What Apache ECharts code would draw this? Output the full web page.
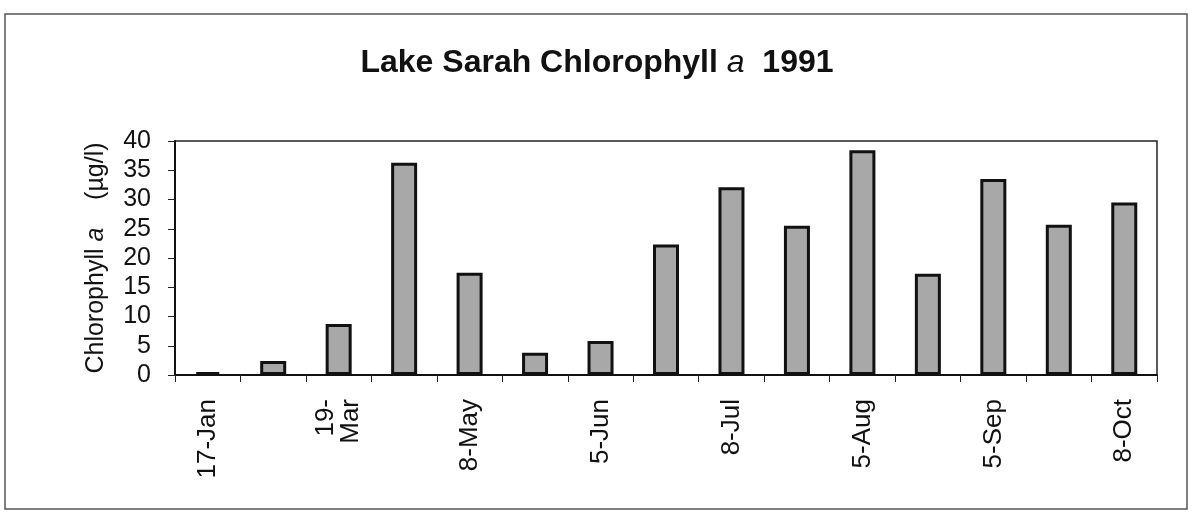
<!DOCTYPE html>
<html>
<head>
<meta charset="utf-8">
<script src="https://cdn.jsdelivr.net/npm/echarts@6/dist/echarts.min.js"></script>
<style>
  html, body { margin: 0; padding: 0; background: #fff; }
  #chart { width: 1194px; height: 520px; }
</style>
</head>
<body>
<div id="chart"></div>
<script>
// sampling dates, only every other one is labelled in the original
const dates = [
  "17-Jan", "", "19-\nMar", "", "8-May", "", "5-Jun", "",
  "8-Jul", "", "5-Aug", "", "5-Sep", "", "8-Oct"
];
// chlorophyll a, ug/l
const chlA = [0.5, 2.4, 8.7, 36.3, 17.5, 3.8, 5.8, 22.3, 32.1, 25.5, 38.4, 17.3, 33.5, 25.7, 29.5];
const yTicks = [0, 5, 10, 15, 20, 25, 30, 35, 40];

const font = "Liberation Sans, Arial, Helvetica, sans-serif";
const myChart = echarts.init(document.getElementById("chart"));

const option = {
  animation: false,
  backgroundColor: "#fff",
  title: {
    text: "Lake Sarah Chlorophyll {i|a}  1991",
    left: "center",
    top: 42,
    textStyle: {
      fontFamily: font,
      fontSize: 32,
      fontWeight: "bold",
      color: "#111",
      rich: {
        i: { fontFamily: font, fontSize: 32, fontStyle: "italic", fontWeight: "normal", color: "#111" }
      }
    }
  },
  graphic: [
    {
      // outer frame of the scanned figure
      type: "rect",
      shape: { x: 5, y: 14, width: 1182, height: 495 },
      style: { fill: "none", stroke: "#555", lineWidth: 1.5 },
      silent: true
    }
  ],
  grid: {
    left: 175,
    right: 37,
    top: 141,
    bottom: 145,
    show: true,
    borderColor: "#222",
    borderWidth: 1.5
  },
  xAxis: {
    type: "category",
    data: dates,
    axisLine: { lineStyle: { color: "#111", width: 2 } },
    axisTick: { show: true, interval: 0, length: 7, lineStyle: { color: "#222", width: 1 } },
    axisLabel: {
      interval: 0,
      rotate: 90,
      margin: 24,
      fontFamily: font,
      fontSize: 26,
      lineHeight: 25,
      color: "#111"
    },
    splitLine: { show: false }
  },
  yAxis: {
    type: "value",
    min: yTicks[0],
    max: yTicks[yTicks.length - 1],
    interval: yTicks[1] - yTicks[0],
    name: "Chlorophyll {i|a}    (µg/l)",
    nameLocation: "middle",
    nameRotate: 90,
    nameGap: 66,
    nameTextStyle: {
      fontFamily: font,
      fontSize: 25,
      color: "#111",
      rich: {
        i: { fontFamily: font, fontSize: 25, fontStyle: "italic", color: "#111" }
      }
    },
    axisLine: { show: true, lineStyle: { color: "#111", width: 2 } },
    axisTick: { show: true, length: 7, lineStyle: { color: "#222", width: 1 } },
    axisLabel: {
      margin: 24,
      fontFamily: font,
      fontSize: 25,
      color: "#111"
    },
    splitLine: { show: false }
  },
  series: [
    {
      type: "bar",
      data: chlA,
      barWidth: 26,
      itemStyle: {
        color: "#a8a8a8",
        borderColor: "#111",
        borderWidth: 3
      }
    }
  ]
};

myChart.setOption(option);
</script>
</body>
</html>
